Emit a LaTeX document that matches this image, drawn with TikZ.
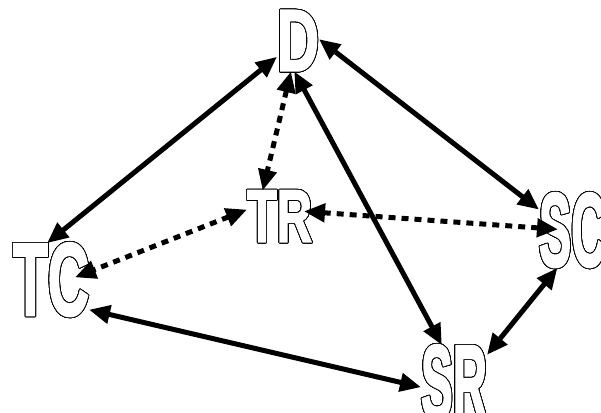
\documentclass[tikz,border=0pt]{standalone}
\usepackage{fontspec}
\newfontfamily\hollowfont[FakeBold=2.5]{Liberation Sans}
\usepackage{contour}
\contourlength{0.8pt}
\contournumber{32}
\usetikzlibrary{arrows.meta}
\tikzstyle{station}=[inner sep=0pt,outer sep=0pt,text=white]
\tikzstyle{link}=[draw,line width=5pt,{Triangle[length=21pt,width=18pt]}-{Triangle[length=21pt,width=18pt]}]
\tikzstyle{hint}=[link,dash pattern=on 7pt off 6pt]
\newcommand{\hollow}[3]{\contour{black}{\resizebox{#1}{#2}{\hollowfont\bfseries #3}}}
\begin{document}
\begin{tikzpicture}[x=1pt,y=-1pt]
\useasboundingbox (0,0) rectangle (601,412);
\clip (0,0) rectangle (601,412);
\path (298,41) node[station] (D) {\hollow{42pt}{60pt}{D}}
      (51,280) node[station] (TC) {\hollow{76pt}{72pt}{TC}}
      (279.5,216.5) node[station] (TR) {\hollow{65pt}{51pt}{TR}}
      (572.5,230.5) node[station] (SC) {\hollow{67pt}{73pt}{SC}}
      (454,382.5) node[station] (SR) {\hollow{66pt}{73pt}{SR}};
\draw[link] (D.217) -- (TC.96);
\draw[link] (D.5) -- (SC.148);
\draw[link] (D.263) -- (SR.108);
\draw[hint] (D.257) -- (TR.123);
\draw[hint] (TR.168) -- ([xshift=-14pt]TC.4);
\draw[hint] ([xshift=-8pt]TR.9) -- ([xshift=19pt]SC.178);
\draw[link] (TC.322) -- (SR.188);
\draw[link] (SC.248) -- (SR.40);
\end{tikzpicture}
\end{document}
